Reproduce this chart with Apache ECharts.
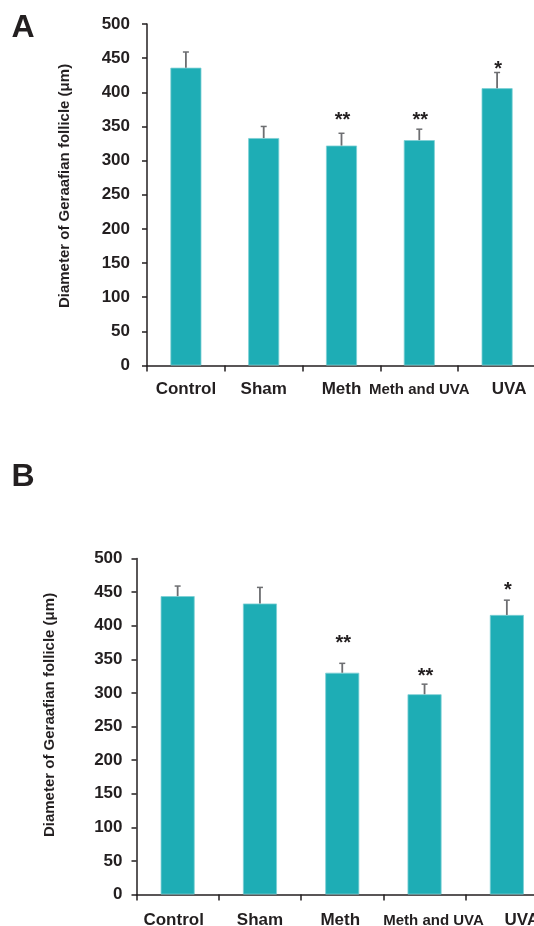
<!DOCTYPE html>
<html>
<head>
<meta charset="utf-8">
<script src="https://cdn.jsdelivr.net/npm/echarts@6/dist/echarts.min.js"></script>
<style>html,body{margin:0;padding:0;background:#fff}#c{width:534px;height:926px}</style>
</head>
<body>
<div id="c"></div>
<script>
var categories = ['Control', 'Sham', 'Meth', 'Meth and UVA', 'UVA'];
var yTicks = [0, 50, 100, 150, 200, 250, 300, 350, 400, 450, 500];
var meanA = [436, 333, 322, 330, 406];
var errTopA = [459, 350, 340, 346, 429];
var starsA = ['', '', '**', '**', '*'];
var starYA = [null, null, 359, 359, 434];
var meanB = [444, 433, 330, 298, 416];
var errTopB = [459, 457, 344, 313, 438];
var starsB = ['', '', '**', '**', '*'];
var starYB = [null, null, 373, 324, 452];

var FONT = '"Liberation Sans", Arial, sans-serif';
var TXT = '#231f20';
var BAR = '#1eadb5';
var ERR = '#6d6e71';

var chart = echarts.init(document.getElementById('c'), null, {renderer: 'canvas'});

function labelFmt() {
  return function (v, i) {
    return '{c' + i + '|' + v + '}';
  };
}
function richFor(shifts, smallIdx) {
  var r = {};
  for (var i = 0; i < categories.length; i++) {
    var s = shifts[i];
    r['c' + i] = {
      fontFamily: FONT, fontWeight: 'bold', color: TXT,
      fontSize: i === smallIdx ? 15 : 17,
      padding: [i === smallIdx ? 2 : 0, s < 0 ? -2 * s : 0, 0, s > 0 ? 2 * s : 0]
    };
  }
  return r;
}

function xAxisCfg(gi, margin, shifts) {
  return {
    type: 'category', gridIndex: gi, data: categories,
    boundaryGap: true,
    axisLine: {lineStyle: {color: TXT, width: 1.5}},
    axisTick: {show: true, length: 6, alignWithLabel: false, lineStyle: {color: TXT, width: 1.5}},
    axisLabel: {margin: margin, interval: 0, hideOverlap: false, formatter: labelFmt(), rich: richFor(shifts, 3)}
  };
}
function yAxisCfg(gi, margin) {
  return {
    type: 'value', gridIndex: gi, min: 0, max: 500, interval: 50,
    splitLine: {show: false},
    axisLine: {show: true, lineStyle: {color: TXT, width: 1.5}},
    axisTick: {show: true, length: 5, lineStyle: {color: TXT, width: 1.5}},
    axisLabel: {margin: margin, color: TXT, fontFamily: FONT, fontWeight: 'bold', fontSize: 17}
  };
}

function errSeries(ai, means, tops) {
  return {
    type: 'custom', xAxisIndex: ai, yAxisIndex: ai, z: 3,
    data: means.map(function (m, i) { return [i, m, tops[i]]; }),
    renderItem: function (params, api) {
      var p0 = api.coord([api.value(0), api.value(1)]);
      var p1 = api.coord([api.value(0), api.value(2)]);
      return {
        type: 'group', children: [
          {type: 'line', shape: {x1: p0[0], y1: p0[1], x2: p1[0], y2: p1[1]}, style: {stroke: ERR, lineWidth: 1.8}},
          {type: 'line', shape: {x1: p1[0] - 3, y1: p1[1], x2: p1[0] + 3, y2: p1[1]}, style: {stroke: ERR, lineWidth: 1.5}}
        ]
      };
    }
  };
}
function starSeries(ai, stars, ys) {
  var d = [];
  stars.forEach(function (s, i) { if (s) d.push([i, ys[i], s]); });
  return {
    type: 'custom', xAxisIndex: ai, yAxisIndex: ai, z: 4,
    data: d,
    renderItem: function (params, api) {
      var p = api.coord([api.value(0), api.value(1)]);
      return {
        type: 'text', x: p[0] + 1, y: p[1],
        style: {text: d[params.dataIndex][2], fill: TXT, fontFamily: FONT, fontWeight: 'bold', fontSize: 20,
          align: 'center', verticalAlign: 'middle'}
      };
    }
  };
}
function barSeries(ai, vals, w) {
  return {
    type: 'bar', xAxisIndex: ai, yAxisIndex: ai, data: vals, barWidth: w, z: 2,
    itemStyle: {color: BAR, borderColor: '#7ccfd4', borderWidth: 0.8}
  };
}

chart.setOption({
  animation: false,
  backgroundColor: '#fff',
  grid: [
    {left: 147, top: 24, width: 389, height: 341.5, outerBoundsMode: 'none', containLabel: false},
    {left: 136.5, top: 558.5, width: 411.5, height: 336, outerBoundsMode: 'none', containLabel: false}
  ],
  xAxis: [xAxisCfg(0, 15, [0, 0, 0, 0, 12]), xAxisCfg(1, 17, [-4, 0, -2, 9, 15])],
  yAxis: [yAxisCfg(0, 17), yAxisCfg(1, 14)],
  series: [
    barSeries(0, meanA, 31), errSeries(0, meanA, errTopA), starSeries(0, starsA, starYA),
    barSeries(1, meanB, 34), errSeries(1, meanB, errTopB), starSeries(1, starsB, starYB)
  ],
  graphic: [
    {type: 'text', x: 23, y: 28, style: {text: 'A', fontFamily: FONT, fontWeight: 'bold', fontSize: 32, fill: TXT, align: 'center', verticalAlign: 'middle'}},
    {type: 'text', x: 23, y: 477, style: {text: 'B', fontFamily: FONT, fontWeight: 'bold', fontSize: 32, fill: TXT, align: 'center', verticalAlign: 'middle'}},
    {type: 'text', x: 65, y: 186, rotation: Math.PI / 2, style: {text: 'Diameter of Geraafian follicle (μm)', fontFamily: FONT, fontWeight: 'bold', fontSize: 15, fill: TXT, align: 'center', verticalAlign: 'middle'}},
    {type: 'text', x: 50, y: 715, rotation: Math.PI / 2, style: {text: 'Diameter of Geraafian follicle (μm)', fontFamily: FONT, fontWeight: 'bold', fontSize: 15, fill: TXT, align: 'center', verticalAlign: 'middle'}}
  ]
});
</script>
</body>
</html>
